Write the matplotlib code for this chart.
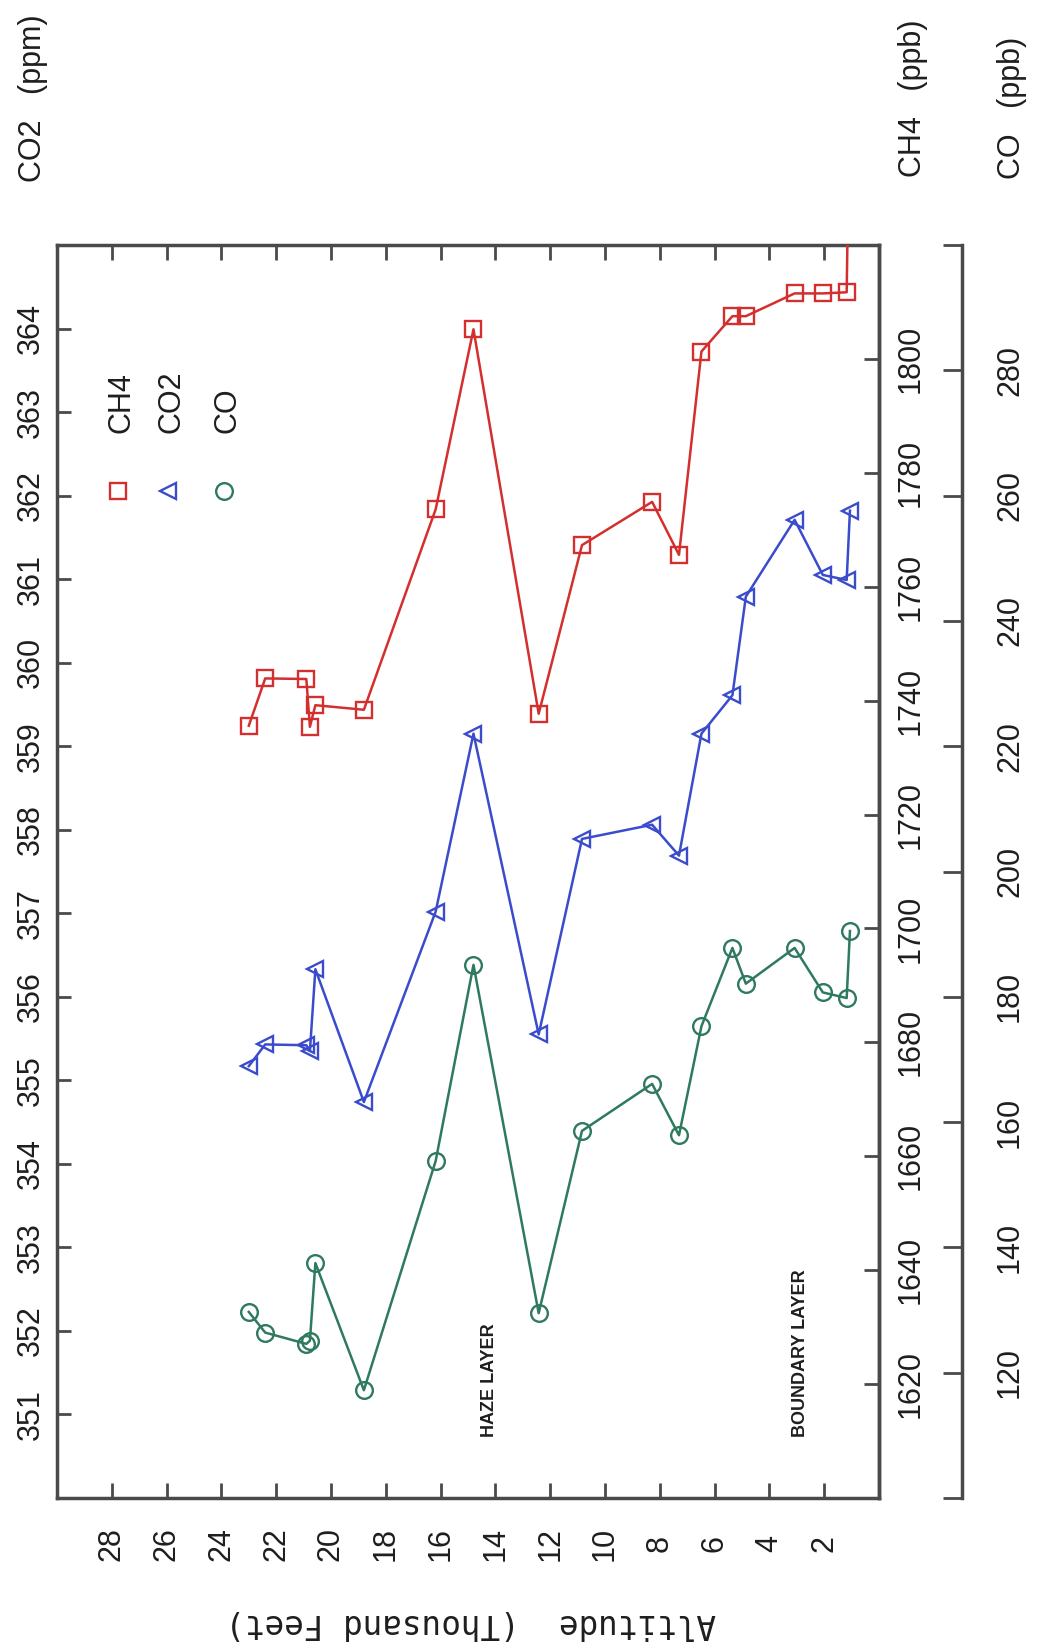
import matplotlib
matplotlib.use("Agg")
import matplotlib.pyplot as plt
from matplotlib import font_manager

# sample altitudes (thousand feet), shared by the three gases
altitude = [23.0, 22.4, 20.9, 20.77, 20.57, 18.8, 16.18, 14.8, 12.42, 10.84,
            8.28, 7.3, 6.48, 5.35, 4.86, 3.08, 2.05, 1.18, 1.06]
ch4 = [1735.6, 1743.9, 1743.8, 1735.4, 1739.2, 1738.4, 1773.6, 1805.2, 1737.7, 1767.3,
       1774.9, 1765.6, 1801.3, 1807.5, 1807.5, 1811.5, 1811.5, 1811.7, 1850.0]
co2 = [355.17, 355.43, 355.42, 355.35, 356.33, 354.74, 357.02, 359.15, 355.55, 357.89,
       358.06, 357.69, 359.15, 359.61, 360.79, 361.71, 361.05, 360.99, 361.82]
co = [129.7, 126.4, 124.6, 125.1, 137.5, 117.2, 153.8, 185.1, 129.5, 158.6,
      166.1, 157.9, 175.3, 187.8, 182.1, 187.8, 180.7, 179.8, 190.5]

alt_ticks = list(range(2, 29, 2))
co2_ticks = list(range(351, 365))
ch4_ticks = list(range(1620, 1801, 20))
co_ticks = list(range(100, 301, 20))

RED = "#d42f2f"
BLUE = "#3a4ccc"
GREEN = "#2f7a5e"
AXC = "#4a4a4a"
TXT = "#1e1e1e"

names = {f.name for f in font_manager.fontManager.ttflist}
if "Liberation Sans Narrow" in names:
    FONT, FS, FS_SMALL = "Liberation Sans Narrow", 25, 16
else:
    FONT, FS, FS_SMALL = "Liberation Sans", 22, 13

W, H = 1037, 1648
fig = plt.figure(figsize=(W / 100, H / 100), dpi=100)
ax = fig.add_axes([57 / W, (H - 1498) / H, 822 / W, 1253 / H])
ax_ch4 = ax.twinx()
ax_co = ax.twinx()
# move the CO spine first: set_position rebuilds the ticks
ax_co.spines["right"].set_position(("axes", 1 + (961.5 - 879) / 822))

line_kw = dict(lw=1.8, ms=12, mew=1.7, mfc="none")
ax_ch4.plot(altitude, ch4, color=RED, marker="s", **line_kw)
ax.plot(altitude, co2, color=BLUE, marker="<", **line_kw)
ax_co.plot(altitude, co, color=GREEN, marker="o", **line_kw)

ax.set_xlim(30, 0)
ax.set_ylim(350, 365)
ax_ch4.set_ylim(1600, 1820)
ax_co.set_ylim(100, 300)

ax.tick_params(axis="x", direction="in", length=11, width=2, color=AXC,
               top=True, bottom=True, pad=33)
ax.tick_params(axis="y", direction="in", length=10, width=2, color=AXC, pad=19)
ax_ch4.tick_params(axis="y", direction="in", length=11, width=2, color=AXC, pad=23)
ax_co.tick_params(axis="y", direction="in", length=14, width=2, color=AXC, pad=35)

lab_kw = dict(rotation=90, ha="center", va="center", fontsize=FS, family=FONT, color=TXT)
ax.set_xticks(alt_ticks, labels=[str(t) for t in alt_ticks], **lab_kw)
ax.set_yticks(co2_ticks, labels=[str(t) for t in co2_ticks], **lab_kw)
ax_ch4.set_yticks(ch4_ticks, labels=[str(t) for t in ch4_ticks], **lab_kw)
ax_co.set_yticks(co_ticks, labels=["" if t in (100, 300) else str(t) for t in co_ticks], **lab_kw)

for s in ax.spines.values():
    s.set_color(AXC)
    s.set_linewidth(2.5)
for a in (ax_ch4, ax_co):
    for side in ("top", "bottom", "left"):
        a.spines[side].set_visible(False)
    a.spines["right"].set_color(AXC)
    a.spines["right"].set_linewidth(2.5)

# axis titles
title_kw = dict(rotation=90, ha="center", va="center", fontsize=FS, family=FONT, color=TXT)
fig.text(33 / W, 1 - 98 / H, "CO2   (ppm)", **title_kw)
fig.text(913 / W, 1 - 98 / H, "CH4   (ppb)", **title_kw)
fig.text(1012 / W, 1 - 108 / H, "CO   (ppb)", **title_kw)
fig.text(471 / W, 1 - 1624 / H, "Altitude  (Thousand Feet)", rotation=180,
         ha="center", va="center", fontsize=23.5, family="DejaVu Sans Mono", color=TXT)

# legend drawn sideways like the rest of the page
legend = [("CH4", RED, "s", 0.0742), ("CO2", BLUE, "<", 0.135), ("CO", GREEN, "o", 0.203)]
for name, col, mk, lx in legend:
    ax.plot([lx], [0.8037], transform=ax.transAxes, color=col, marker=mk,
            ms=12, mew=1.7, mfc="none", ls="none", clip_on=False)
    ax.text(lx + 0.004, 0.850, name, transform=ax.transAxes, rotation=90,
            rotation_mode="anchor", ha="left", va="center",
            fontsize=FS, family=FONT, color=TXT)

# layer notes
note_kw = dict(rotation=90, rotation_mode="anchor", ha="left", va="center",
               fontsize=FS_SMALL, family=FONT, fontweight="bold", color=TXT)
ax.text(14.2, 350.73, "HAZE LAYER", **note_kw)
ax.text(2.86, 350.73, "BOUNDARY LAYER", **note_kw)

fig.savefig("out.png", dpi=100)
